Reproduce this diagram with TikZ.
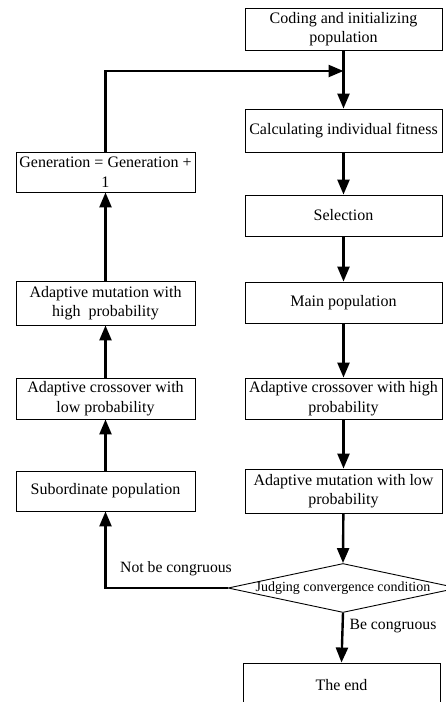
\documentclass[tikz,border=0pt]{standalone}
\usepackage{fontspec}
\setmainfont{Liberation Serif}
\usetikzlibrary{arrows.meta}
\usetikzlibrary{shapes.geometric}

\tikzset{
  stepbox/.style={draw, line width=0.9pt, align=center, inner sep=0pt,
    font=\fontsize{16}{19.5}\selectfont},
  rbox/.style={stepbox, minimum width=197pt},
  lbox/.style={stepbox, minimum width=179pt},
  judgebox/.style={draw, line width=0.9pt, shape=diamond, inner sep=0pt,
    minimum width=230pt, minimum height=49pt},
  flow/.style={line width=2.4pt, -{Triangle[length=15pt,width=12pt]}},
  branch/.style={font=\fontsize{15.7}{18}\selectfont}
}

\begin{document}
\begin{tikzpicture}[x=1pt,y=-1pt]
%					Cadre de la figure :
					\useasboundingbox (0,0) rectangle (446,702);
					\clip (0,0) rectangle (446,702);
%					Colonne de droite :
					\node[rbox, minimum height=42pt] (coding) at (343.5,29) {Coding and initializing\\population};
					\node[rbox, minimum height=43pt] (fitness) at (343.5,130.5) {Calculating individual fitness};
					\node[rbox, minimum height=41pt] (select) at (343.5,215.5) {Selection};
					\node[rbox, minimum height=41pt] (mainpop) at (343.5,302.5) {Main population};
					\node[rbox, minimum height=41pt] (crosshigh) at (343.5,398.5) {Adaptive crossover with high\\probability};
					\node[rbox, minimum height=44pt] (mutlow) at (343.5,491) {Adaptive mutation with low\\probability};
					\node[judgebox, label={[font=\fontsize{14}{16}\selectfont]center:Judging convergence condition}] (judge) at (343,588) {};
					\node[rbox, minimum height=44pt] (theend) at (341.5,685) {The end};
%					Colonne de gauche :
					\node[lbox, minimum height=40pt] (gen) at (105.5,172) {Generation = Generation +\\1};
					\node[lbox, minimum height=44pt] (muthigh) at (105.5,303) {Adaptive mutation with\\high~ probability};
					\node[lbox, minimum height=41pt] (crosslow) at (105.5,398.5) {Adaptive crossover with\\low probability};
					\node[lbox, minimum height=40pt] (subpop) at (105.5,491) {Subordinate population};
%					Point de jonction :
					\coordinate (merge) at (343.5,71);
%					Flèches :
					\draw[flow] (coding) -- (fitness);
					\draw[flow] (gen.north) |- (merge);
					\draw[flow] (fitness) -- (select);
					\draw[flow] (select) -- (mainpop);
					\draw[flow] (mainpop) -- (crosshigh);
					\draw[flow] (crosshigh) -- (mutlow);
					\draw[flow] (mutlow) -- (judge.north);
					\draw[flow] (judge.south) -- (theend.north);
					\draw[flow] (judge.west) -| (subpop.south);
					\draw[flow] (subpop) -- (crosslow);
					\draw[flow] (crosslow) -- (muthigh);
					\draw[flow] (muthigh) -- (gen);
%					Étiquettes :
					\node[branch] (notcong) at (176,569) {Not be congruous};
					\node[branch] (becong) at (393,626) {Be congruous};
				\end{tikzpicture}
\end{document}
